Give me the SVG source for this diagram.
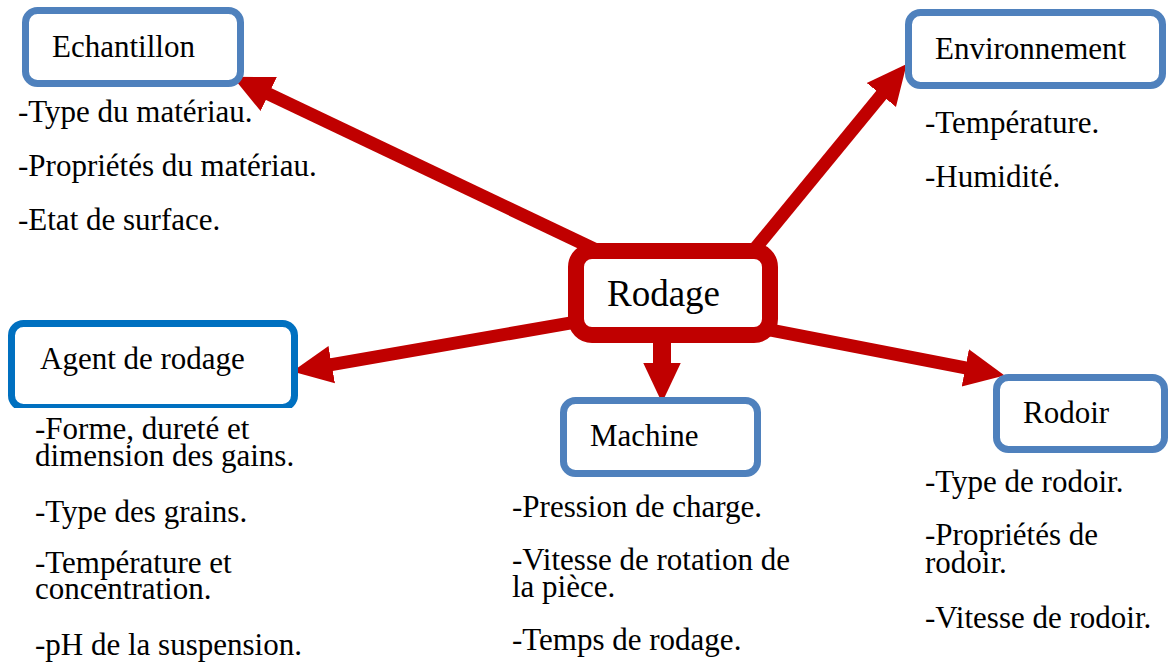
<svg xmlns="http://www.w3.org/2000/svg" width="1169" height="666" viewBox="0 0 1169 666">
<style>
text{font-family:"Liberation Serif","Times New Roman",serif;font-size:31px;fill:#000}
.box{fill:#fff;stroke:#4F81BD;stroke-width:7}
.conn{stroke:#C00000;stroke-width:13;fill:none;marker-end:url(#ah)}
</style>
<defs>
<marker id="ah" markerUnits="userSpaceOnUse" markerWidth="40" markerHeight="40" viewBox="0 0 36 34" refX="12" refY="17" orient="auto">
<path d="M0,0 L36,17 L0,34 z" fill="#C00000"/>
</marker>
<clipPath id="agclip"><rect x="0" y="300" width="320" height="108"/></clipPath>
</defs>
<rect width="1169" height="666" fill="#fff"/>
<g id="connectors">
<line class="conn" x1="598.8" y1="251.2" x2="256.7" y2="88.3"/>
<line class="conn" x1="752.3" y1="252" x2="889.8" y2="84.6"/>
<line class="conn" x1="579.8" y1="321.3" x2="318.6" y2="366.9"/>
<line class="conn" x1="762" y1="328.5" x2="978.4" y2="370.4"/>
<line class="conn" style="stroke-width:18" x1="662" y1="335" x2="662" y2="376"/>
</g>
<g id="echantillon">
<rect class="box" x="25.5" y="10.5" width="215" height="73" rx="12"/>
<text x="52" y="57">Echantillon</text>
<text x="18" y="122">-Type du matériau.</text>
<text x="18" y="176">-Propriétés du matériau.</text>
<text x="18" y="230">-Etat de surface.</text>
</g>
<g id="environnement">
<rect class="box" x="908.5" y="12.5" width="254" height="73" rx="12"/>
<text x="935" y="59">Environnement</text>
<text x="925" y="133">-Température.</text>
<text x="925" y="187">-Humidité.</text>
</g>
<g id="rodage">
<rect x="576" y="251" width="194" height="84" rx="16" fill="#fff" stroke="#C00000" stroke-width="16"/>
<text x="607" y="306" style="font-size:37px">Rodage</text>
</g>
<g id="agent">
<rect class="box" style="stroke:#0070C0" x="11.5" y="323.5" width="283" height="84" rx="12" clip-path="url(#agclip)"/>
<text x="40" y="369">Agent de rodage</text>
<text x="35" y="439">-Forme, dureté et</text>
<text x="35" y="466">dimension des gains.</text>
<text x="35" y="522">-Type des grains.</text>
<text x="35" y="573">-Température et</text>
<text x="35" y="599">concentration.</text>
<text x="35" y="655">-pH de la suspension.</text>
</g>
<g id="machine">
<rect class="box" x="563.5" y="400.5" width="194" height="73" rx="12"/>
<text x="590" y="446">Machine</text>
<text x="512" y="517">-Pression de charge.</text>
<text x="512" y="570">-Vitesse de rotation de</text>
<text x="512" y="597">la pièce.</text>
<text x="512" y="650">-Temps de rodage.</text>
</g>
<g id="rodoir">
<rect class="box" x="996.5" y="377.5" width="168" height="72" rx="12"/>
<text x="1023" y="423">Rodoir</text>
<text x="925" y="492">-Type de rodoir.</text>
<text x="925" y="545">-Propriétés de</text>
<text x="925" y="573">rodoir.</text>
<text x="925" y="628">-Vitesse de rodoir.</text>
</g>
</svg>
